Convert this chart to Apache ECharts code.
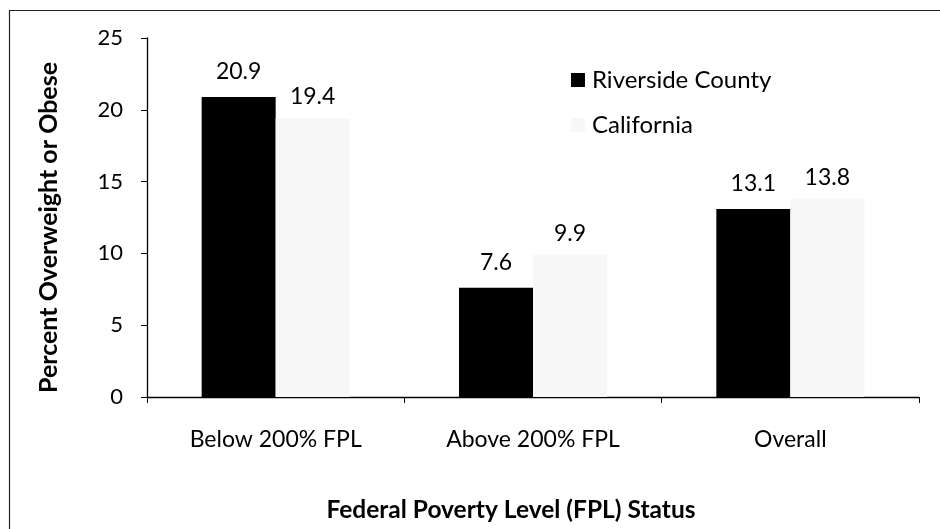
<!DOCTYPE html>
<html>
<head>
<meta charset="utf-8">
<script src="https://cdn.jsdelivr.net/npm/echarts@6/dist/echarts.min.js"></script>
<style>html,body{margin:0;padding:0;background:#fff}#c{width:940px;height:529px}</style>
</head>
<body>
<div id="c"></div>
<script>
const categories = ['Below 200% FPL', 'Above 200% FPL', 'Overall'];
const riverside = [20.9, 7.6, 13.1];
const california = [19.4, 9.9, 13.8];
const yTicks = [0, 5, 10, 15, 20, 25];
const seriesNames = ['Riverside County', 'California'];
const xTitle = 'Federal Poverty Level (FPL) Status';
const yTitle = 'Percent Overweight or Obese';

const FONT = 'Lato, "Open Sans", sans-serif';
const chart = echarts.init(document.getElementById('c'), null, {renderer: 'canvas'});
chart.setOption({
  animation: false,
  backgroundColor: '#fff',
  textStyle: {fontFamily: FONT},
  graphic: [{
    type: 'rect', shape: {x: 9.5, y: 10.5, width: 940, height: 530},
    style: {fill: 'none', stroke: '#222', lineWidth: 1.2}, silent: true, z: -1
  }],
  legend: {
    orient: 'vertical', left: 566, top: 63, itemWidth: 14, itemHeight: 14,
    itemGap: 21, icon: 'rect',
    textStyle: {fontFamily: FONT, fontSize: 24, color: '#000', padding: [0, 0, 0, 2]},
    data: seriesNames
  },
  grid: {left: 147, right: 21, top: 38, bottom: 132, containLabel: false},
  xAxis: {
    type: 'category', data: categories,
    axisLine: {lineStyle: {color: '#000', width: 1.3}},
    axisTick: {show: true, length: 6, lineStyle: {color: '#000'}},
    axisLabel: {color: '#000', fontSize: 23, margin: 31, fontFamily: FONT},
    name: xTitle, nameLocation: 'middle', nameGap: 101,
    nameTextStyle: {fontSize: 24.5, fontWeight: 'bold', color: '#000', fontFamily: FONT, padding: [0, 44, 0, 0]}
  },
  yAxis: {
    type: 'value', min: yTicks[0], max: yTicks[yTicks.length - 1], interval: 5,
    splitLine: {show: false},
    axisLine: {show: true, lineStyle: {color: '#000', width: 1.3}},
    axisTick: {show: true, length: 6, lineStyle: {color: '#000'}},
    axisLabel: {color: '#000', fontSize: 22, margin: 24, fontFamily: FONT},
    name: yTitle, nameLocation: 'middle', nameGap: 86, nameRotate: 90,
    nameTextStyle: {fontSize: 25, fontWeight: 'bold', color: '#000', fontFamily: FONT, padding: [0, 20, 0, 0]}
  },
  series: [{
    name: seriesNames[0], type: 'bar', data: riverside, barWidth: 74, barGap: '0%',
    itemStyle: {color: '#000'},
    label: {show: true, position: 'top', distance: 14, fontSize: 23, color: '#000', fontFamily: FONT}
  }, {
    name: seriesNames[1], type: 'bar', data: california, barWidth: 74,
    itemStyle: {color: '#f7f7f7'},
    label: {show: true, position: 'top', distance: 10, fontSize: 23, color: '#000', fontFamily: FONT}
  }]
});
</script>
</body>
</html>
